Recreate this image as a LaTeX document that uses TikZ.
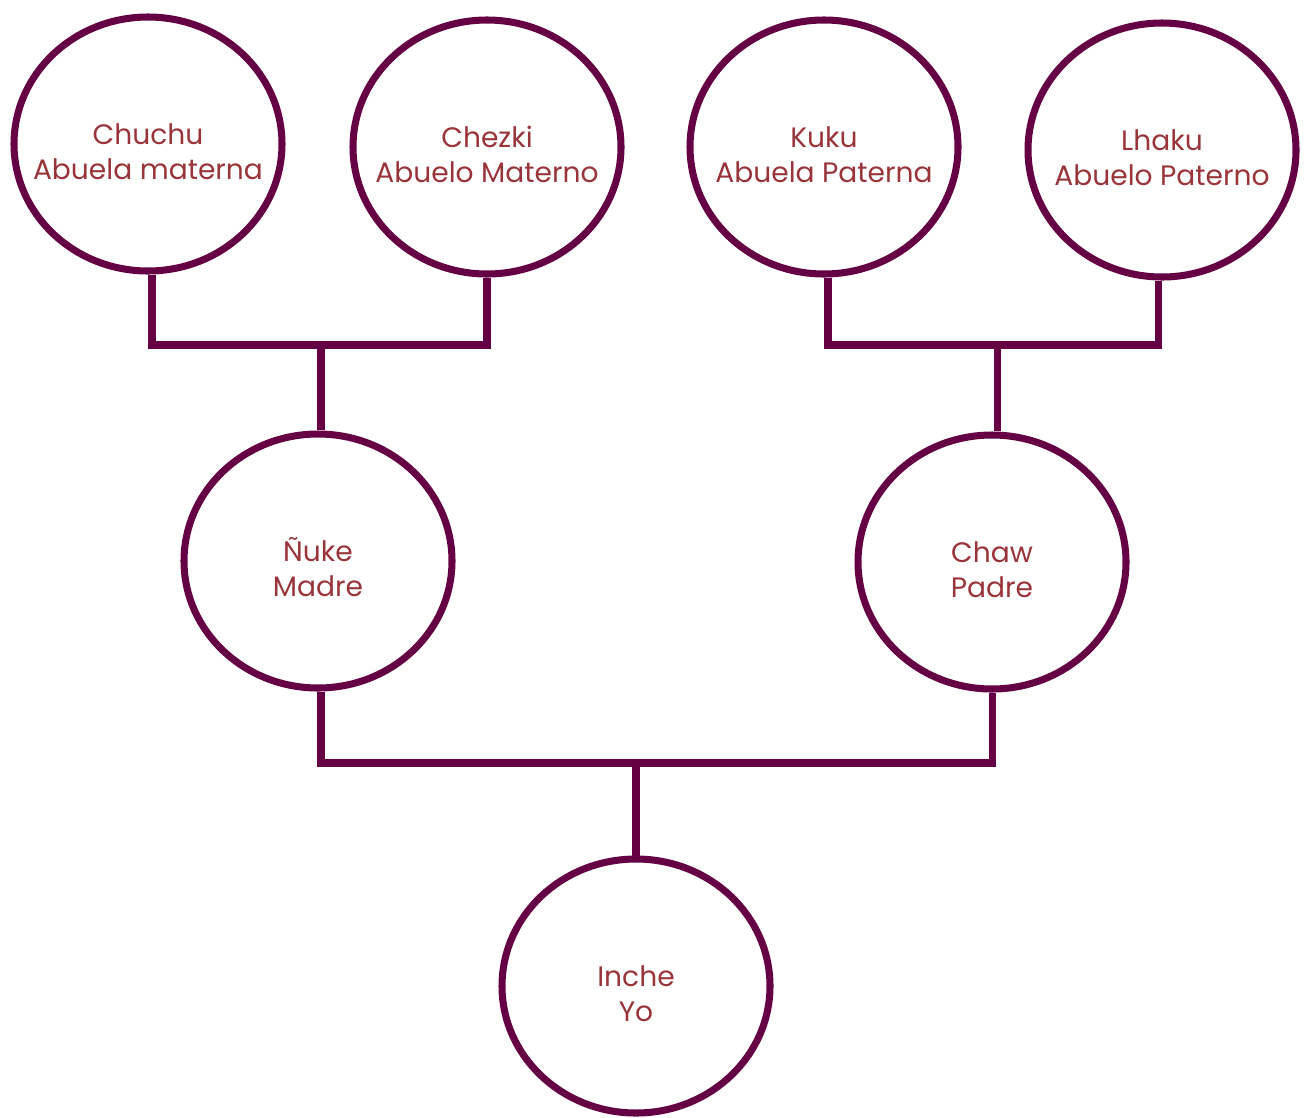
\documentclass[tikz,border=0pt]{standalone}
\usepackage{fontspec}
\setmainfont{Poppins}
\definecolor{TreePurple}{RGB}{102, 0, 68}
\definecolor{NameRed}{RGB}{152, 52, 58}
\usetikzlibrary{shapes.geometric, positioning, calc}
% two centred lines that do not widen the ellipse
\newcommand{\twoline}[2]{\raisebox{-0.37cm}[0pt][0pt]{\makebox[0pt]{\begin{tabular}{@{}c@{}}#1\\ #2\end{tabular}}}}

\begin{document}
\begin{tikzpicture}[
  person/.style={ellipse, draw=TreePurple, line width=4pt, fill=white, inner sep=0pt, minimum width=5.36cm, minimum height=5.08cm, text=NameRed, font=\fontsize{16}{20}\selectfont},
  link/.style={draw=TreePurple, line width=4pt}]
\useasboundingbox (0, 0) rectangle (26.1, -22.34);
\node[person] (chuchu) at (2.96, -2.88) {\twoline{Chuchu}{Abuela materna}};
\node[person] (chezki) at (9.74, -2.94) {\twoline{Chezki}{Abuelo Materno}};
\node[person] (kuku) at (16.48, -2.94) {\twoline{Kuku}{Abuela Paterna}};
\node[person] (lhaku) at (23.24, -3.0) {\twoline{Lhaku}{Abuelo Paterno}};
\node[person] (nuke) at (6.36, -11.22) {\twoline{Ñuke}{Madre}};
\node[person] (chaw) at (19.84, -11.24) {\twoline{Chaw}{Padre}};
\node[person] (inche) at (12.72, -19.72) {\twoline{Inche}{Yo}};
\coordinate (mjoin) at (6.42, -6.9);
\coordinate (pjoin) at (19.94, -6.9);
\coordinate (cjoin) at (12.72, -15.26);
\draw[link] ($(chuchu.south) + (0.08, 0)$) |- (mjoin) -| (chezki.south); \draw[link] (mjoin) -- (mjoin |- nuke.north);
\draw[link] ($(kuku.south) + (0.08, 0)$) |- (pjoin) -| ($(lhaku.south) + (-0.08, 0)$); \draw[link] (pjoin) -- (pjoin |- chaw.north);
\draw[link] ($(nuke.south) + (0.06, 0)$) |- (cjoin) -| (chaw.south); \draw[link] (cjoin) -- (inche.north);
\end{tikzpicture}
\end{document}
